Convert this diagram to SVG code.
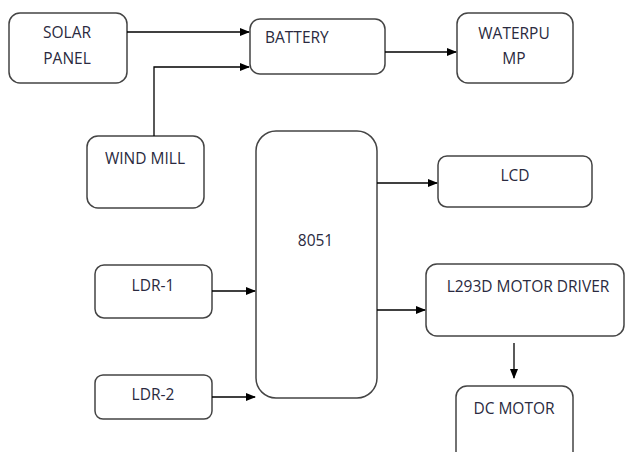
<svg xmlns="http://www.w3.org/2000/svg" width="626" height="452" viewBox="0 0 626 452">
<style>
.b{fill:#fff;stroke:#444;stroke-width:1.5}
.t{font-family:"Open Sans","Liberation Sans",sans-serif;font-size:15.5px;fill:#2a2a40;text-anchor:middle}
.c{stroke:#000;stroke-width:1.3;fill:none;marker-end:url(#a)}
</style>
<defs>
<marker id="a" markerWidth="10" markerHeight="8" refX="9" refY="4" orient="auto" markerUnits="userSpaceOnUse">
<path d="M0,0 L10,4 L0,8 Z" fill="#000"/>
</marker>
</defs>
<rect width="626" height="452" fill="#fff"/>
<g id="solar"><rect class="b" x="9" y="13" width="118" height="70" rx="11"/><text class="t" x="67" y="38">SOLAR</text><text class="t" x="67" y="64">PANEL</text></g>
<g id="battery"><rect class="b" x="250" y="19" width="135" height="55" rx="10"/><text class="t" x="265" y="43" style="text-anchor:start">BATTERY</text></g>
<g id="waterpump"><rect class="b" x="457" y="13" width="116" height="70" rx="11"/><text class="t" x="514" y="39">WATERPU</text><text class="t" x="514" y="64">MP</text></g>
<g id="windmill"><rect class="b" x="87" y="136" width="117" height="72" rx="11"/><text class="t" x="145" y="164">WIND MILL</text></g>
<g id="mcu"><rect class="b" x="256" y="131" width="121" height="267" rx="20"/><text class="t" x="315.5" y="246">8051</text></g>
<g id="lcd"><rect class="b" x="438" y="156" width="154" height="51" rx="9"/><text class="t" x="515" y="181">LCD</text></g>
<g id="driver"><rect class="b" x="426" y="264" width="198" height="72" rx="11"/><text class="t" x="528" y="292">L293D MOTOR DRIVER</text></g>
<g id="dcmotor"><rect class="b" x="456" y="386" width="117" height="80" rx="11"/><text class="t" x="514" y="414">DC MOTOR</text></g>
<g id="ldr1"><rect class="b" x="95" y="265" width="117" height="53" rx="9"/><text class="t" x="153" y="291">LDR-1</text></g>
<g id="ldr2"><rect class="b" x="95" y="375" width="117" height="44" rx="8"/><text class="t" x="153" y="400">LDR-2</text></g>
<g id="connectors">
<path class="c" d="M127,32 H249"/>
<path class="c" d="M154,136 V67 H249"/>
<path class="c" d="M385,52 H456"/>
<path class="c" d="M377,183 H437"/>
<path class="c" d="M377,310 H425"/>
<path class="c" d="M514,343 V378"/>
<path class="c" d="M212,291 H255"/>
<path class="c" d="M212,397 H255"/>
</g>
</svg>
